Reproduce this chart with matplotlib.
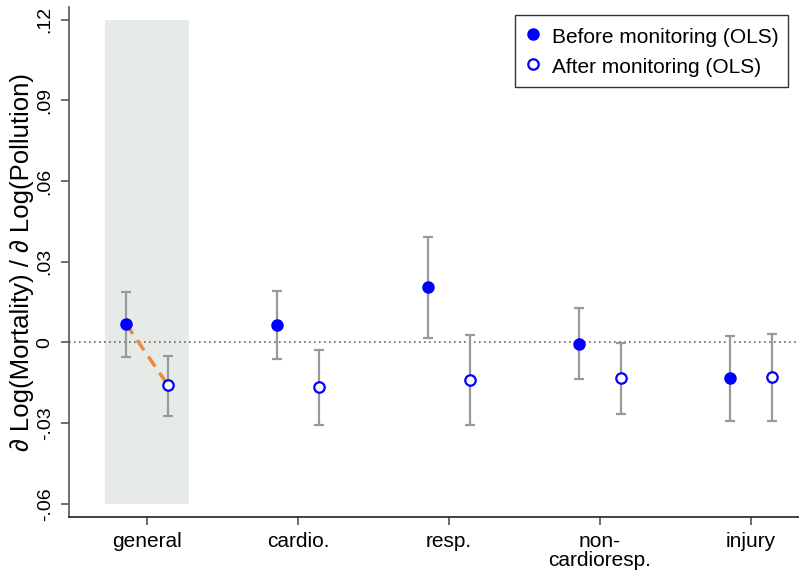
import matplotlib
matplotlib.use("Agg")
import matplotlib.pyplot as plt
import numpy as np

plt.rcParams['font.family'] = ['Liberation Sans', 'DejaVu Sans']

categories = ["general", "cardio.", "resp.", "non-\ncardioresp.", "injury"]
before_est = [0.0069, 0.0063, 0.0205, -0.0005, -0.0134]
before_lo = [-0.0054, -0.0063, 0.0016, -0.0136, -0.0291]
before_hi = [0.0188, 0.0193, 0.0393, 0.0128, 0.0024]
after_est = [-0.0160, -0.0166, -0.0139, -0.0133, -0.0129]
after_lo = [-0.0272, -0.0307, -0.0307, -0.0266, -0.0293]
after_hi = [-0.0050, -0.0027, 0.0028, -0.0002, 0.0032]
yticks = [-0.06, -0.03, 0, 0.03, 0.06, 0.09, 0.12]
ytick_labels = ["-.06", "-.03", "0", ".03", ".06", ".09", ".12"]

fig = plt.figure(figsize=(7.99, 5.76), dpi=100)
ax = fig.add_axes([69/799, 1-517/576, 1-69/799, (517-7)/576])

x = np.arange(1, len(categories)+1)
off = 0.14
xb = x - off
xa = x + off

ax.fill_between([1-0.28, 1+0.28], [-0.06, -0.06], [0.12, 0.12], color='#e6ebe8', zorder=0, linewidth=0)

ax.axhline(0, color='#666666', linestyle=(0, (1, 2)), linewidth=1.2, zorder=1)

ecol = '#999999'
be = np.array(before_est); ae = np.array(after_est)
ax.errorbar(xb, be, yerr=[be-np.array(before_lo), np.array(before_hi)-be],
            fmt='none', ecolor=ecol, elinewidth=1.6, capsize=3.5, capthick=1.6, zorder=2)
ax.errorbar(xa, ae, yerr=[ae-np.array(after_lo), np.array(after_hi)-ae],
            fmt='none', ecolor=ecol, elinewidth=1.6, capsize=3.5, capthick=1.6, zorder=2)

ax.plot([xb[0], xa[0]], [before_est[0], after_est[0]], color='#ec8a3e', linestyle=(0, (3.5, 2.2)), linewidth=2.5, zorder=3)

ax.plot(xb, before_est, 'o', color='#0000ff', markersize=8, linestyle='none', zorder=4, label='Before monitoring (OLS)')
ax.plot(xa, after_est, 'o', markerfacecolor='white', markeredgecolor='#0000ff', markeredgewidth=1.6,
        markersize=7.5, linestyle='none', zorder=4, label='After monitoring (OLS)')

ax.set_xlim(0.483, 5.318)
ax.set_ylim(-0.0649, 0.1247)
ax.set_xticks(x)
ax.set_xticklabels(categories, fontsize=15, linespacing=1.0)
ax.set_yticks(yticks)
ax.set_yticklabels(ytick_labels, fontsize=14, rotation=90, va='center')
ax.set_ylabel("∂ Log(Mortality) / ∂ Log(Pollution)", fontsize=18.5, labelpad=2)

for s in ['top', 'right']:
    ax.spines[s].set_visible(False)
ax.spines['left'].set_color('#555555')
ax.spines['bottom'].set_color('#222222')
for s in ['left', 'bottom']:
    ax.spines[s].set_linewidth(1.2)
ax.tick_params(axis='both', length=6, width=1.2, color='#555555', pad=5)

leg = ax.legend(loc='upper right', bbox_to_anchor=(1-11/730, 1-8/510), fontsize=15, frameon=True, fancybox=False,
                edgecolor='black', handletextpad=0.45, borderpad=0.45, labelspacing=0.36, handlelength=0.9,
                handleheight=1.3, borderaxespad=0)
leg.get_frame().set_linewidth(1.0)

fig.savefig("out.png", dpi=100)
